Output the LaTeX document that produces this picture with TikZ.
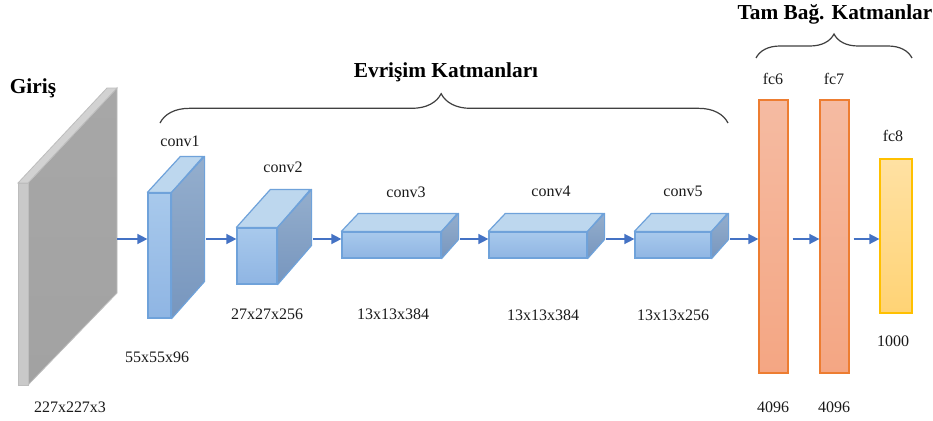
\documentclass[tikz,border=0pt]{standalone}
\usepackage{fontspec}
\setmainfont{Liberation Serif}
\usetikzlibrary{arrows.meta,decorations.pathreplacing}
\definecolor{edgeblue}{HTML}{6FA2DA}
\definecolor{frontA}{HTML}{A8C9EC}
\definecolor{frontB}{HTML}{8FB5E3}
\definecolor{topblue}{HTML}{BDD7EE}
\definecolor{sideA}{HTML}{94AECD}
\definecolor{sideB}{HTML}{7796BE}
\definecolor{arrowblue}{HTML}{4472C4}
\definecolor{fcedge}{HTML}{ED7D31}
\definecolor{fcA}{HTML}{F5BBA2}
\definecolor{fcB}{HTML}{F4A683}
\definecolor{fceightedge}{HTML}{FFC000}
\definecolor{fceightA}{HTML}{FFE1A3}
\definecolor{fceightB}{HTML}{FFD375}
\definecolor{bracegray}{HTML}{404040}
\definecolor{txt}{HTML}{1A1A1A}
\definecolor{slabside}{HTML}{A7A7A7}
\definecolor{slabsideB}{HTML}{A2A2A2}
\definecolor{slabtop}{HTML}{D2D2D2}
\definecolor{slabfront}{HTML}{C9C9C9}
\definecolor{slabedge}{HTML}{BDBDBD}
\tikzset{
  front/.style={draw=edgeblue, line width=0.9pt, top color=frontA, bottom color=frontB, inner sep=0pt, rectangle},
  topface/.style={draw=edgeblue, line width=0.9pt, fill=topblue, line join=round},
  sideface/.style={draw=edgeblue, line width=0.9pt, top color=sideA, bottom color=sideB, line join=round},
  fcbar/.style={draw=fcedge, line width=0.9pt, top color=fcA, bottom color=fcB, inner sep=0pt, rectangle},
  fceight/.style={draw=fceightedge, line width=0.9pt, top color=fceightA, bottom color=fceightB, inner sep=0pt, rectangle},
  arr/.style={draw=arrowblue, line width=1.1pt, -{Triangle[length=7.5pt,width=7.5pt]}},
  lbl/.style={text=txt, font=\fontsize{12}{14}\selectfont, inner sep=0pt},
  ttl/.style={text=black, font=\fontsize{16}{19}\selectfont\bfseries, inner sep=0pt},
  bracestyle/.style={draw=bracegray, line width=0.9pt, decorate},
}
\begin{document}
\begin{tikzpicture}[x=0.75pt,y=-0.75pt]
\useasboundingbox[fill=white] (0,0) rectangle (933,421);

% Input slab
\node[draw=none, fill=none, inner sep=0pt, minimum width=7.5pt, minimum height=151.5pt] (inp) at (23,284) {};
\path[draw=slabedge, line width=0.6pt, top color=slabside, bottom color=slabsideB] (28,183) -- (117,88) -- (117,293) -- (28,385) -- cycle;
\path[fill=slabtop, draw=slabedge, line width=0.6pt] (18,183) -- (107,88) -- (117,88) -- (28,183) -- cycle;
\path[fill=slabfront, draw=slabedge, line width=0.6pt] (18,183) rectangle (28,385);
\coordinate (inpout) at (117,239);

% conv1
\node[front, minimum width=17.25pt, minimum height=93.75pt] (c1) at (159.5,255.5) {};
\path[topface] (c1.north west) -- ++(33,-36) -- ++(23,0) -- (c1.north east) -- cycle;
\path[sideface] (c1.north east) -- ++(33,-36) -- ++(0,125) -- (c1.south east) -- cycle;
\coordinate (c1out) at (206,239);

% conv2
\node[front, minimum width=30pt, minimum height=42pt] (c2) at (257,256) {};
\path[topface] (c2.north west) -- ++(34,-38) -- ++(40,0) -- (c2.north east) -- cycle;
\path[sideface] (c2.north east) -- ++(34,-38) -- ++(0,56) -- (c2.south east) -- cycle;
\coordinate (c2out) at (313,239);

% conv3
\node[front, minimum width=74.25pt, minimum height=19.5pt] (c3) at (391.5,245) {};
\path[topface] (c3.north west) -- ++(17,-18) -- ++(99,0) -- (c3.north east) -- cycle;
\path[sideface] (c3.north east) -- ++(17,-18) -- ++(0,26) -- (c3.south east) -- cycle;
\coordinate (c3out) at (460,239);

% conv4
\node[front, minimum width=73.5pt, minimum height=19.5pt] (c4) at (538,245) {};
\path[topface] (c4.north west) -- ++(17,-18) -- ++(98,0) -- (c4.north east) -- cycle;
\path[sideface] (c4.north east) -- ++(17,-18) -- ++(0,26) -- (c4.south east) -- cycle;
\coordinate (c4out) at (606,239);

% conv5
\node[front, minimum width=57pt, minimum height=19.5pt] (c5) at (673,245) {};
\path[topface] (c5.north west) -- ++(17,-18) -- ++(76,0) -- (c5.north east) -- cycle;
\path[sideface] (c5.north east) -- ++(17,-18) -- ++(0,26) -- (c5.south east) -- cycle;
\coordinate (c5out) at (730,239);

% fc layers
\node[fcbar, minimum width=21.75pt, minimum height=204.75pt] (fc6) at (773.5,236.5) {};
\node[fcbar, minimum width=21.75pt, minimum height=204.75pt] (fc7) at (834.5,236.5) {};
\node[fceight, minimum width=24pt, minimum height=115.5pt] (fc8) at (896,236) {};
\coordinate (ay) at (0,239);

% arrows
\draw[arr] (inpout) -- (c1.west |- ay);
\draw[arr] (c1out) -- (c2.west |- ay);
\draw[arr] (c2out) -- (c3.west |- ay);
\draw[arr] (c3out) -- (c4.west |- ay);
\draw[arr] (c4out) -- (c5.west |- ay);
\draw[arr] (c5out) -- (fc6.west |- ay);
\draw[arr, shorten <=3pt] (fc6.east |- ay) -- (fc7.west |- ay);
\draw[arr, shorten <=3pt] (fc7.east |- ay) -- (fc8.west |- ay);

% braces
\coordinate (bl1) at (160,123);
\coordinate (br1) at (728,123);
\draw[bracestyle, decoration={brace, amplitude=22pt, aspect=0.495}] (bl1) -- (br1);
\coordinate (bl2) at (756,58);
\coordinate (br2) at (912,58);
\draw[bracestyle, decoration={brace, amplitude=18pt, aspect=0.5}] (bl2) -- (br2);

% titles
\node[ttl] (tgiris) at (33,88) {Giriş};
\node[ttl] (tconv) at (446,72) {Evrişim Katmanları};
\node[ttl] (tfc) at (835,14) {Tam Bağ. Katmanlar};

% labels
\node[lbl] (l1) at (180,141) {conv1};
\node[lbl] (l2) at (283,167) {conv2};
\node[lbl] (l3) at (406,192) {conv3};
\node[lbl] (l4) at (551,191) {conv4};
\node[lbl] (l5) at (683,191) {conv5};
\node[lbl] (d0) at (70,407) {227x227x3};
\node[lbl] (d1) at (157,357) {55x55x96};
\node[lbl] (d2) at (267,314) {27x27x256};
\node[lbl] (d3) at (393,314) {13x13x384};
\node[lbl] (d4) at (543,315) {13x13x384};
\node[lbl] (d5) at (673,315) {13x13x256};
\node[lbl] (f6) at (773,79) {fc6};
\node[lbl] (f7) at (834,79) {fc7};
\node[lbl] (f8) at (893,136) {fc8};
\node[lbl] (n6) at (773,407) {4096};
\node[lbl] (n7) at (834,407) {4096};
\node[lbl] (n8) at (893,341) {1000};
\end{tikzpicture}
\end{document}
